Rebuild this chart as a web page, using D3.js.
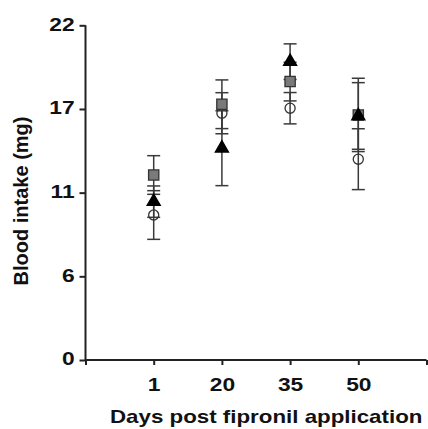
<!DOCTYPE html>
<html><head><meta charset="utf-8">
<script src="https://cdn.jsdelivr.net/npm/d3@7"></script>
<style>body{margin:0;background:#fff}svg{display:block}</style>
</head><body>
<svg id="c" width="428" height="429"></svg>
<script>
const days = ["1", "20", "35", "50"];
const yTicks = [0, 5.5, 11, 16.5, 22];
const yTickLabels = ["0", "6", "11", "17", "22"];
// three treatment groups: mean and SE
const circleMean = [9.53, 16.22, 16.55, 13.2];
const circleErr  = [1.6, 1.35, 1.03, 2.0];
const squareMean = [12.16, 16.81, 18.30, 16.11];
const squareErr  = [1.27, 1.6, 1.27, 2.41];
const triMean    = [10.41, 13.92, 19.61, 16.04];
const triErr     = [1.03, 2.46, 1.17, 2.19];

const svg = d3.select("#c");
const x = d3.scaleLinear().domain([0, 5]).range([85.5, 426.5]);
const y = d3.scaleLinear().domain([0, 22]).range([360, 25.3]);
const ink = "#222";
const font = "Liberation Sans, Arial, sans-serif";

// axes
const yAxis = svg.append("g").attr("transform", `translate(${x(0)},0)`)
  .call(d3.axisLeft(y).tickValues(yTicks).tickFormat((d, i) => yTickLabels[i]).tickSize(6).tickPadding(3));
const xAxis = svg.append("g").attr("transform", `translate(0,${y(0)})`)
  .call(d3.axisBottom(x).tickValues([0, 1, 2, 3, 4, 5]).tickFormat(d => (d >= 1 && d <= 4) ? days[d - 1] : "").tickSize(5).tickPadding(13));
[yAxis, xAxis].forEach(g => {
  g.select(".domain").attr("stroke", ink).attr("stroke-width", 2);
  g.selectAll(".tick line").attr("stroke", ink).attr("stroke-width", 2);
  g.selectAll("text").attr("fill", "#111").attr("transform", "scale(1.2,1)")
    .style("font-family", font).style("font-weight", "bold").style("font-size", "19px");
});
yAxis.selectAll("text").attr("dy", "0.25em");
xAxis.select(".domain").attr("d", `M${x(0)},0H${x(5)}`);
yAxis.select(".domain").attr("d", `M0,${y(22)}V${y(0)}`);

// labels
svg.append("text").attr("transform", "translate(110,423) scale(1.175,1)")
  .style("font-family", font).style("font-weight", "bold").style("font-size", "19px").attr("fill", "#111")
  .text("Days post fipronil application");
svg.append("text").attr("transform", "translate(28,201) rotate(-90)").attr("text-anchor", "middle")
  .style("font-family", font).style("font-weight", "bold").style("font-size", "20px").attr("fill", "#111")
  .text("Blood intake (mg)");

const series = [
  {mean: circleMean, err: circleErr, sym: d3.symbolCircle, size: 80, fill: "none", stroke: "#333"},
  {mean: squareMean, err: squareErr, sym: d3.symbolSquare, size: 105, fill: "#7a7a7a", stroke: "#333"},
  {mean: triMean, err: triErr, sym: d3.symbolTriangle, size: 75, fill: "#000", stroke: "#000"}
];

// error bars
const eb = svg.append("g").attr("stroke", "#3a3a3a").attr("stroke-width", 1.5);
series.forEach(s => {
  s.mean.forEach((m, i) => {
    const cx = x(i + 1), top = y(m + s.err[i]), bot = y(m - s.err[i]);
    eb.append("line").attr("x1", cx).attr("x2", cx).attr("y1", top).attr("y2", bot);
    eb.append("line").attr("x1", cx - 6.5).attr("x2", cx + 6.5).attr("y1", top).attr("y2", top);
    eb.append("line").attr("x1", cx - 6.5).attr("x2", cx + 6.5).attr("y1", bot).attr("y2", bot);
  });
});
// markers
series.forEach(s => {
  svg.append("g").selectAll("path").data(s.mean).join("path")
    .attr("transform", (d, i) => `translate(${x(i + 1)},${y(d)})`)
    .attr("d", d3.symbol().type(s.sym).size(s.size))
    .attr("fill", s.fill).attr("stroke", s.stroke).attr("stroke-width", 1.3);
});
</script>
</body></html>
